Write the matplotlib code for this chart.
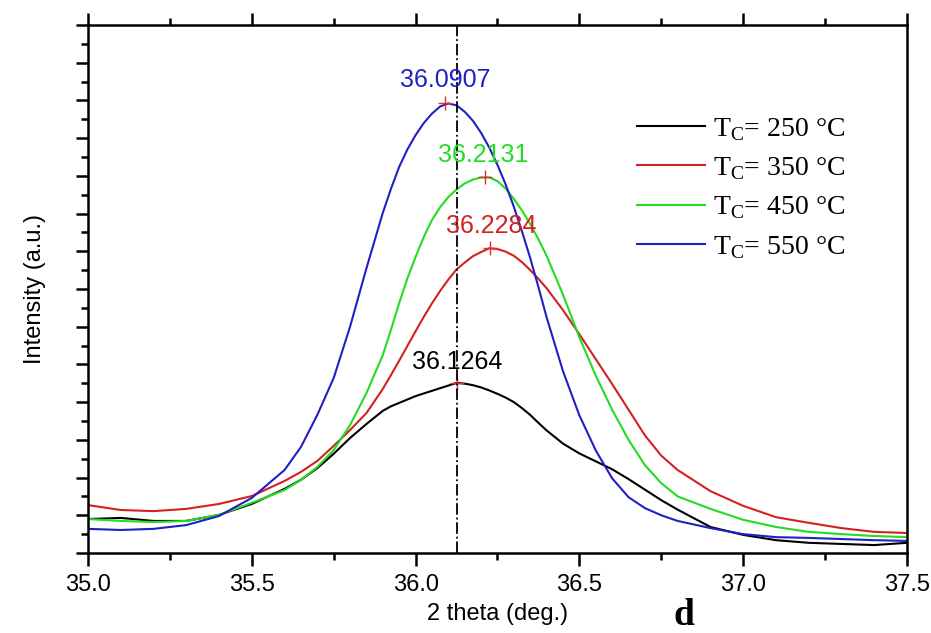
import numpy as np
import matplotlib
matplotlib.use('Agg')
import matplotlib.pyplot as plt
from matplotlib.ticker import MultipleLocator, FormatStrFormatter

plt.rcParams['font.family'] = ['Liberation Sans', 'DejaVu Sans']

# 2 theta grid (deg.), denser around the peaks
theta = [35.0, 35.1, 35.2, 35.3, 35.4, 35.5, 35.6, 35.65, 35.7, 35.75, 35.8, 35.85,
         35.9, 35.925, 35.95, 35.975, 36.0, 36.025, 36.05, 36.075, 36.1, 36.125,
         36.15, 36.175, 36.2, 36.225, 36.25, 36.275, 36.3, 36.325, 36.35, 36.375,
         36.4, 36.45, 36.5, 36.55, 36.6, 36.65, 36.7, 36.75, 36.8,
         36.9, 37.0, 37.1, 37.2, 37.3, 37.4, 37.5]

int_250 = [0.90, 0.93, 0.85, 0.85, 1.01, 1.30, 1.70, 1.94, 2.25, 2.63, 3.05, 3.42,
           3.77, 3.89, 3.98, 4.07, 4.16, 4.23, 4.30, 4.37, 4.44, 4.51,
           4.49, 4.45, 4.39, 4.31, 4.22, 4.12, 4.00, 3.84, 3.66, 3.45,
           3.25, 2.90, 2.64, 2.43, 2.22, 1.96, 1.68, 1.40, 1.15,
           0.69, 0.48, 0.34, 0.27, 0.24, 0.21, 0.27]
int_350 = [1.27, 1.14, 1.11, 1.17, 1.30, 1.51, 1.91, 2.15, 2.44, 2.84, 3.26, 3.71,
           4.35, 4.72, 5.10, 5.49, 5.88, 6.26, 6.62, 6.95, 7.25, 7.52,
           7.70, 7.87, 7.98, 8.08, 8.06, 7.99, 7.88, 7.71, 7.50, 7.27,
           7.02, 6.44, 5.80, 5.14, 4.48, 3.80, 3.12, 2.58, 2.20,
           1.64, 1.25, 0.95, 0.80, 0.66, 0.56, 0.53]
int_450 = [0.90, 0.85, 0.82, 0.85, 1.01, 1.33, 1.67, 1.94, 2.28, 2.73, 3.39, 4.24,
           5.25, 5.92, 6.63, 7.28, 7.85, 8.38, 8.83, 9.17, 9.44, 9.64,
           9.80, 9.90, 9.96, 9.96, 9.86, 9.66, 9.39, 9.08, 8.72, 8.32,
           7.88, 6.85, 5.72, 4.70, 3.80, 3.00, 2.33, 1.85, 1.50,
           1.17, 0.88, 0.69, 0.56, 0.50, 0.45, 0.42]
int_550 = [0.64, 0.61, 0.64, 0.74, 0.98, 1.46, 2.20, 2.81, 3.66, 4.64, 6.00, 7.55,
           9.02, 9.66, 10.24, 10.70, 11.08, 11.40, 11.65, 11.84, 11.92, 11.87,
           11.70, 11.46, 11.14, 10.75, 10.29, 9.77, 9.18, 8.52, 7.82, 7.05,
           6.25, 4.82, 3.65, 2.72, 1.98, 1.48, 1.19, 1.00, 0.85,
           0.66, 0.50, 0.42, 0.40, 0.37, 0.34, 0.32]

labels = ['250', '350', '450', '550']
colors = ['black', '#d42020', '#22dd22', '#2020c4']
peak_x = [36.1264, 36.2284, 36.2131, 36.0907]
peak_y = [4.51, 8.09, 9.97, 11.93]
peak_txt = ['36.1264', '36.2284', '36.2131', '36.0907']
txt_x = [36.126, 36.23, 36.206, 36.091]
txt_y = [5.06, 8.67, 10.55, 12.54]
ref_line = 36.1264

fig = plt.figure(figsize=(9.31, 6.33), dpi=100)
ax = fig.add_axes([0.0945, 0.1264, 0.8797, 0.8341])

series = [int_250, int_350, int_450, int_550]
for i in range(4):
    ax.plot(theta, series[i], color=colors[i], lw=1.5,
            label=r'T$_\mathregular{C}$= ' + labels[i] + ' °C')
    ax.plot(peak_x[i], peak_y[i], marker='+', color='#e03030', ms=10, mew=1.0)
    ax.text(txt_x[i], txt_y[i], peak_txt[i], color=colors[i], fontsize=18,
            ha='center', va='center')

ax.axvline(ref_line, color='black', ls='-.', lw=1.3)

ax.set_xlim(35.0, 37.5)
ax.set_ylim(0, 14)
ax.xaxis.set_major_locator(MultipleLocator(0.5))
ax.xaxis.set_minor_locator(MultipleLocator(0.25))
ax.yaxis.set_major_locator(MultipleLocator(1))
ax.yaxis.set_minor_locator(MultipleLocator(0.5))
ax.xaxis.set_major_formatter(FormatStrFormatter('%.1f'))
ax.tick_params(which='both', direction='out', top=True, right=False, width=1.8,
               labelleft=False, labelsize=17, pad=6)
ax.tick_params(which='major', length=9)
ax.tick_params(which='minor', length=5)
for s in ax.spines.values():
    s.set_linewidth(1.8)

ax.set_xlabel('2 theta (deg.)', fontsize=17, labelpad=5)
ax.set_ylabel('Intensity (a.u.)', fontsize=17, labelpad=21)
fig.text(0.735, 0.028, 'd', fontsize=27, fontweight='bold',
         family='Liberation Serif', ha='center', va='center')

leg = ax.legend(loc='upper left', bbox_to_anchor=(0.670, 0.828), frameon=False,
                prop={'family': 'Liberation Serif', 'size': 20},
                handlelength=2.45, handletextpad=0.3, labelspacing=0.45,
                borderpad=0, borderaxespad=0)

fig.savefig('out.png', dpi=100)
